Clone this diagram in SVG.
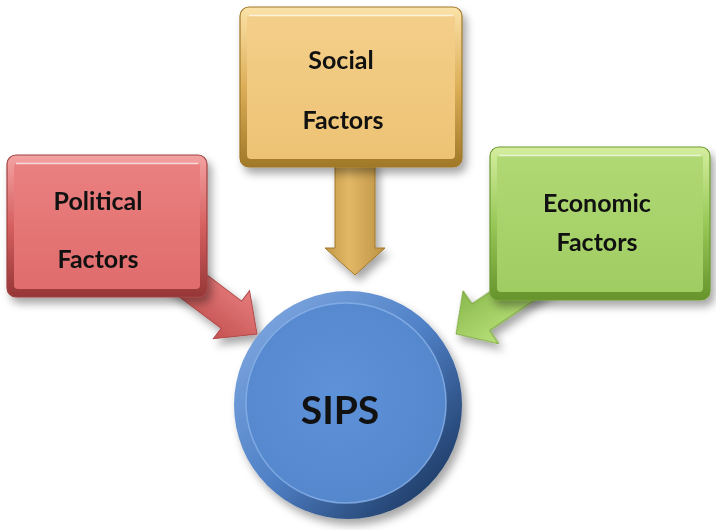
<svg xmlns="http://www.w3.org/2000/svg" width="716" height="530" viewBox="0 0 716 530">
  <defs>
    <filter id="shadow" x="-20%" y="-20%" width="150%" height="150%">
      <feDropShadow dx="4" dy="6" stdDeviation="4" flood-color="#000" flood-opacity="0.35"/>
    </filter>
    <!-- frame gradients: light top edge, darker bottom edge -->
    <linearGradient id="frameRed" x1="0" y1="0" x2="0" y2="1">
      <stop offset="0" stop-color="#f4a2a2"/>
      <stop offset="0.5" stop-color="#d66060"/>
      <stop offset="1" stop-color="#963636"/>
    </linearGradient>
    <linearGradient id="faceRed" x1="0" y1="0" x2="0" y2="1">
      <stop offset="0" stop-color="#ea8080"/>
      <stop offset="1" stop-color="#e06c6c"/>
    </linearGradient>
    <linearGradient id="frameGold" x1="0" y1="0" x2="0" y2="1">
      <stop offset="0" stop-color="#fbe2a8"/>
      <stop offset="0.5" stop-color="#dcae58"/>
      <stop offset="1" stop-color="#a07828"/>
    </linearGradient>
    <linearGradient id="faceGold" x1="0" y1="0" x2="0" y2="1">
      <stop offset="0" stop-color="#f4cf8a"/>
      <stop offset="1" stop-color="#edc274"/>
    </linearGradient>
    <linearGradient id="frameGreen" x1="0" y1="0" x2="0" y2="1">
      <stop offset="0" stop-color="#d4ee9e"/>
      <stop offset="0.5" stop-color="#98c858"/>
      <stop offset="1" stop-color="#66942c"/>
    </linearGradient>
    <linearGradient id="faceGreen" x1="0" y1="0" x2="0" y2="1">
      <stop offset="0" stop-color="#b0d874"/>
      <stop offset="1" stop-color="#a0cd62"/>
    </linearGradient>
    <linearGradient id="arrowRed" x1="0" y1="0" x2="0" y2="1">
      <stop offset="0" stop-color="#e67c7c"/>
      <stop offset="1" stop-color="#c45252"/>
    </linearGradient>
    <linearGradient id="arrowGold" x1="0" y1="0" x2="1" y2="0">
      <stop offset="0" stop-color="#c29848"/>
      <stop offset="0.4" stop-color="#e2b866"/>
      <stop offset="1" stop-color="#bc9244"/>
    </linearGradient>
    <linearGradient id="arrowGreen" x1="0" y1="0" x2="0" y2="1">
      <stop offset="0" stop-color="#b8e07a"/>
      <stop offset="1" stop-color="#8ab94c"/>
    </linearGradient>
    <linearGradient id="ringBlue" x1="0" y1="0" x2="1" y2="1">
      <stop offset="0" stop-color="#86aee4"/>
      <stop offset="0.5" stop-color="#4f80c6"/>
      <stop offset="0.85" stop-color="#23426f"/>
      <stop offset="1" stop-color="#162a4a"/>
    </linearGradient>
    <radialGradient id="faceBlue" cx="0.45" cy="0.45" r="0.6">
      <stop offset="0" stop-color="#5e92d8"/>
      <stop offset="1" stop-color="#5486cc"/>
    </radialGradient>
    <style>
      .label { font-family: Lato, "Open Sans", "Liberation Sans", sans-serif; font-weight: bold; fill: #111111; text-anchor: middle; }
      .box { font-size: 25px; }
      .hub { font-size: 39px; }
      .hl { fill: none; stroke: #ffffff; stroke-opacity: 0.7; stroke-width: 1.5; }
    </style>
  </defs>

  <rect width="716" height="530" fill="#ffffff"/>

  <!-- connectors: block arrows pointing at the hub -->
  <g id="connectors" filter="url(#shadow)">
    <polygon points="0,0 -32,-30 -32,-17 -120,-17 -120,17 -32,17 -32,30" fill="url(#arrowRed)" stroke="#b04848" stroke-width="1" transform="translate(257,334) rotate(37)"/>
    <polygon points="355,275 325,248 335,248 335,160 375,160 375,248 385,248" fill="url(#arrowGold)" stroke="#a07828" stroke-width="1"/>
    <polygon points="0,0 -30,-32 -30,-16 -110,-16 -110,16 -30,16 -30,32" fill="url(#arrowGreen)" stroke="#72a034" stroke-width="1" transform="translate(456,334) rotate(146)"/>
  </g>

  <!-- Political Factors -->
  <g id="political">
    <rect x="7" y="155" width="200" height="142" rx="9" fill="url(#frameRed)" stroke="#a04040" stroke-width="1.2" filter="url(#shadow)"/>
    <rect x="14" y="163" width="186" height="126" rx="4" fill="url(#faceRed)"/>
    <path class="hl" d="M16 163.5 H198"/>
    <text class="label box" x="98" y="210">Political</text>
    <text class="label box" x="98" y="268">Factors</text>
  </g>

  <!-- Social Factors -->
  <g id="social">
    <rect x="240" y="7" width="222" height="160" rx="9" fill="url(#frameGold)" stroke="#a07828" stroke-width="1.2" filter="url(#shadow)"/>
    <rect x="247" y="15" width="208" height="144" rx="4" fill="url(#faceGold)"/>
    <path class="hl" d="M249 15.5 H453"/>
    <text class="label box" x="341" y="69">Social</text>
    <text class="label box" x="343" y="129">Factors</text>
  </g>

  <!-- Economic Factors -->
  <g id="economic">
    <rect x="490" y="147" width="220" height="153" rx="9" fill="url(#frameGreen)" stroke="#6c9a30" stroke-width="1.2" filter="url(#shadow)"/>
    <rect x="497" y="155" width="206" height="137" rx="4" fill="url(#faceGreen)"/>
    <path class="hl" d="M499 155.5 H701"/>
    <text class="label box" x="597" y="212">Economic</text>
    <text class="label box" x="597" y="251">Factors</text>
  </g>

  <!-- SIPS hub -->
  <g id="sips">
    <circle cx="348" cy="405" r="114" fill="url(#ringBlue)" filter="url(#shadow)"/>
    <circle cx="346" cy="403" r="100" fill="url(#faceBlue)" stroke="#8ab2e8" stroke-width="1.5" stroke-opacity="0.8"/>
    <text class="label hub" x="340" y="424">SIPS</text>
  </g>
</svg>
